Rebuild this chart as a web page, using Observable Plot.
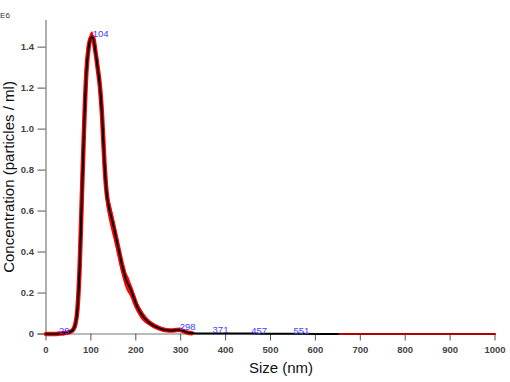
<!DOCTYPE html>
<html>
<head>
<meta charset="utf-8">
<script src="https://cdn.jsdelivr.net/npm/d3@7"></script>
<script src="https://cdn.jsdelivr.net/npm/@observablehq/plot@0.6"></script>
<style>
  html, body { margin: 0; padding: 0; background: #fff; }
  #chart { width: 510px; height: 382px; overflow: hidden; }
  svg { font-family: "Liberation Sans", Arial, sans-serif; }
</style>
</head>
<body>
<div id="chart"></div>
<script>
// Size (nm)
const sizes = [0,20,30,40,50,55,60,65,70,75,80,85,90,95,100,104,110,115,120,125,130,135,140,145,150,155,160,165,170,175,180,185,190,195,200,205,210,220,230,240,250,260,270,280,290,298,305,315,325,350,371,400,457,500,551,600,650,700,800,900,1000];
// Concentration (E6 particles / ml), mean
const conc = [0,0,0.002,0.004,0.008,0.012,0.02,0.045,0.12,0.33,0.68,1.02,1.28,1.40,1.445,1.45,1.38,1.30,1.21,1.06,0.84,0.69,0.62,0.575,0.53,0.48,0.43,0.38,0.33,0.29,0.255,0.235,0.21,0.18,0.15,0.125,0.105,0.075,0.055,0.04,0.03,0.022,0.018,0.017,0.019,0.021,0.015,0.007,0.004,0.003,0.003,0.002,0.002,0.001,0.001,0.0005,0,0,0,0,0];
// +/- error (E6 particles / ml)
const err = [0,0.003,0.004,0.005,0.005,0.005,0.006,0.01,0.01,0.012,0.02,0.02,0.02,0.02,0.022,0.025,0.025,0.025,0.03,0.035,0.04,0.045,0.05,0.055,0.055,0.05,0.05,0.05,0.045,0.045,0.04,0.04,0.035,0.035,0.03,0.025,0.025,0.02,0.015,0.012,0.01,0.008,0.006,0.005,0.005,0.006,0.005,0.004,0.003,0.002,0.001,0.001,0.001,0.001,0.001,0,0,0,0,0,0];

// Peak annotations
const peakSizes = [29,104,298,371,457,551];
const peakConc = [0.002,1.45,0.021,0.003,0.002,0.001];

// Axis ticks
const xTicks = [0,100,200,300,400,500,600,700,800,900,1000];
const yTicks = [0,0.2,0.4,0.6,0.8,1.0,1.2,1.4];

const data = sizes.map((s, i) => ({size: s, conc: conc[i], lo: Math.max(0, conc[i] - err[i]), hi: conc[i] + err[i]}));
const peaks = peakSizes.map((s, i) => ({size: s, conc: peakConc[i], label: String(s)}));

const chart = Plot.plot({
  width: 510,
  height: 382,
  marginLeft: 45.5,
  marginRight: 15.5,
  marginTop: 20,
  marginBottom: 48.5,
  style: {fontFamily: "'Liberation Sans', Arial, sans-serif", background: "#fff"},
  x: {domain: [0, 1000]},
  y: {domain: [0, 1.53]},
  marks: [
    Plot.ruleY([0], {x1: -18, x2: 1000, stroke: "#777", strokeWidth: 1.2}),
    Plot.ruleX([0], {y1: 0, y2: 1.53, stroke: "#777", strokeWidth: 1.2}),
    Plot.axisX({ticks: xTicks, tickSize: 7, tickPadding: 5, fontSize: 9.5, fontWeight: "bold", label: null, stroke: "#555", fill: "#444", tickFormat: d => String(d)}),
    Plot.axisY({ticks: yTicks, tickSize: 8, tickPadding: 4, fontSize: 9.5, fontWeight: "bold", label: null, stroke: "#555", fill: "#444", tickFormat: d => d === 0 ? "0" : d.toFixed(1)}),
    Plot.areaY(data.filter(d => d.size <= 340), {x: "size", y1: "lo", y2: "hi", fill: "#ff0000", curve: "monotone-x"}),
    Plot.lineY(data.filter(d => d.size <= 340), {x: "size", y: "conc", stroke: "#ff0000", strokeWidth: 4.5, curve: "monotone-x"}),
    Plot.lineY(data.filter(d => d.size >= 650), {x: "size", y: "conc", stroke: "#b00000", strokeWidth: 2}),
    Plot.lineY(data.filter(d => d.size <= 650), {x: "size", y: "conc", stroke: "#000", strokeWidth: 2, curve: "monotone-x"}),
    Plot.text(peaks, {x: "size", y: "conc", text: "label", textAnchor: "start", lineAnchor: "bottom", fill: "#4040ff", fontSize: 9.5})
  ]
});

const svg = d3.select(chart);
svg.append("text")
  .attr("transform", "translate(14,177) rotate(-90)")
  .attr("text-anchor", "middle")
  .attr("font-size", 15)
  .attr("fill", "#111")
  .text("Concentration (particles / ml)");
svg.append("text")
  .attr("x", 281)
  .attr("y", 373)
  .attr("text-anchor", "middle")
  .attr("font-size", 15)
  .attr("fill", "#111")
  .text("Size (nm)");
svg.append("text")
  .attr("x", 5)
  .attr("y", 18)
  .attr("font-size", 8)
  .attr("fill", "#333")
  .text("E6");

document.getElementById("chart").appendChild(chart);
</script>
</body>
</html>
